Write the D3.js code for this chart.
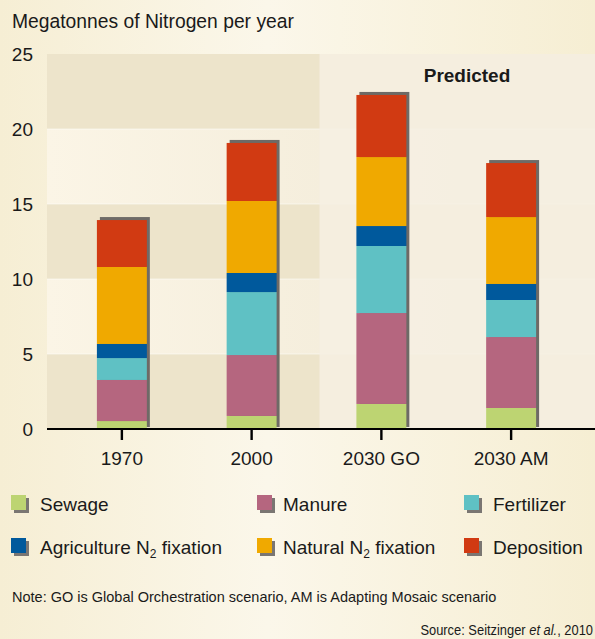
<!DOCTYPE html>
<html>
<head>
<meta charset="utf-8">
<script src="https://cdn.jsdelivr.net/npm/d3@7"></script>
<style>
  html, body { margin: 0; padding: 0; background: #f6efd8; }
  svg { display: block; }
  text { font-family: "Liberation Sans", Arial, Helvetica, sans-serif; fill: #1a1a1a; }
</style>
</head>
<body>
<svg id="chart" width="595" height="639"></svg>
<script>
// Nitrogen inputs by source, Mt N per year
const categories = ["1970", "2000", "2030 GO", "2030 AM"];
const sources = ["Sewage", "Manure", "Fertilizer", "Agriculture N2 fixation", "Natural N2 fixation", "Deposition"];
const sewage      = [0.53, 0.87, 1.67, 1.40];
const manure      = [2.74, 4.06, 6.06, 4.73];
const fertilizer  = [1.46, 4.20, 4.47, 2.47];
const agFixation  = [0.94, 1.27, 1.33, 1.07];
const natFixation = [5.13, 4.80, 4.60, 4.46];
const deposition  = [3.13, 3.87, 4.14, 3.60];
const yTicks = [0, 5, 10, 15, 20, 25];
const colors = ["#bdd472", "#b5667f", "#5fc1c4", "#00599c", "#f0a900", "#d13a12"];

const seriesValues = [sewage, manure, fertilizer, agFixation, natFixation, deposition];
const rows = categories.map((c, i) => {
  const r = { category: c };
  sources.forEach((s, k) => { r[s] = seriesValues[k][i]; });
  return r;
});

const svg = d3.select("#chart");
const W = 595, H = 639;
const plotLeft = 47, plotRight = 595, plotTop = 54, plotBottom = 429;

const defs = svg.append("defs");
const bgGrad = defs.append("linearGradient").attr("id", "bg").attr("x1", 0).attr("x2", 1).attr("y1", 0).attr("y2", 0);
bgGrad.append("stop").attr("offset", "0%").attr("stop-color", "#f6eed4");
bgGrad.append("stop").attr("offset", "45%").attr("stop-color", "#fbf7ea");
bgGrad.append("stop").attr("offset", "100%").attr("stop-color", "#f6eed3");
const lightGrad = defs.append("linearGradient").attr("id", "lightBand").attr("x1", 0).attr("x2", 1).attr("y1", 0).attr("y2", 0);
lightGrad.append("stop").attr("offset", "0%").attr("stop-color", "#fbf5e6");
lightGrad.append("stop").attr("offset", "100%").attr("stop-color", "#efe7d3");

svg.append("rect").attr("width", W).attr("height", H).attr("fill", "url(#bg)");

const y = d3.scaleLinear().domain([0, 25]).range([plotBottom, plotTop]);
const x = d3.scaleBand().domain(categories).range([57, 576]).paddingInner(0.615).paddingOuter(0.3075);

// alternating horizontal bands
const bands = d3.pairs(yTicks);
svg.append("g").selectAll("rect").data(bands).join("rect")
  .attr("x", plotLeft).attr("width", plotRight - plotLeft)
  .attr("y", d => y(d[1])).attr("height", d => y(d[0]) - y(d[1]))
  .attr("fill", (d, i) => i % 2 === 0 ? "#ede4cb" : "url(#lightBand)");

// band separators
svg.append("g").selectAll("line").data(yTicks.slice(1, -1)).join("line")
  .attr("x1", plotLeft).attr("x2", plotRight)
  .attr("y1", d => y(d)).attr("y2", d => y(d))
  .attr("stroke", "#ffffff").attr("stroke-opacity", 0.5).attr("stroke-width", 1);

// projected-scenario region
const predX = (x("2000") + x.bandwidth() + x("2030 GO")) / 2 + 3;
svg.append("rect").attr("x", predX).attr("y", y(25)).attr("width", plotRight - predX).attr("height", y(0) - y(25))
  .attr("fill", "#f6f0e3").attr("fill-opacity", 0.85);
svg.append("text").attr("x", 467).attr("y", 82).attr("text-anchor", "middle")
  .attr("font-size", 19).attr("font-weight", "bold").text("Predicted");

// stacked bars
const stack = d3.stack().keys(sources)(rows);
const totals = rows.map(r => d3.sum(sources, s => r[s]));
svg.append("g").selectAll("rect").data(categories).join("rect")
  .attr("x", d => x(d) + 3).attr("width", x.bandwidth())
  .attr("y", (d, i) => y(totals[i]) - 3).attr("height", (d, i) => y(0) - 2 - (y(totals[i]) - 3))
  .attr("fill", "#6e6a66");
svg.append("g").selectAll("g").data(stack).join("g")
  .attr("fill", (d, i) => colors[i])
  .selectAll("rect").data(d => d).join("rect")
  .attr("x", d => x(d.data.category)).attr("width", x.bandwidth())
  .attr("y", d => y(d[1])).attr("height", d => y(d[0]) - y(d[1]));

// axes
const yAxis = svg.append("g").attr("transform", `translate(33,0)`)
  .call(d3.axisLeft(y).tickValues(yTicks).tickSize(0).tickPadding(0));
yAxis.select(".domain").remove();
yAxis.selectAll("text").attr("font-size", 19).attr("fill", "#1a1a1a")
  .attr("font-family", "Liberation Sans, Arial, sans-serif").attr("dy", "0.36em");

svg.append("line").attr("x1", plotLeft).attr("x2", plotRight).attr("y1", y(0)).attr("y2", y(0))
  .attr("stroke", "#000").attr("stroke-width", 2.2);
const xAxis = svg.append("g").attr("transform", `translate(0,${y(0)})`)
  .call(d3.axisBottom(x).tickSize(11).tickPadding(12));
xAxis.select(".domain").remove();
xAxis.selectAll(".tick line").attr("stroke", "#000").attr("stroke-width", 2.4);
xAxis.selectAll("text").attr("font-size", 19).attr("fill", "#1a1a1a")
  .attr("font-family", "Liberation Sans, Arial, sans-serif");

// title
svg.append("text").attr("x", 12).attr("y", 28).attr("font-size", 19.3).text("Megatonnes of Nitrogen per year");

// legend
const legendPos = [
  [11, 495], [257, 495], [464, 495],
  [11, 538], [257, 538], [464, 538]
];
const textOffset = [29, 26, 29];
const legend = svg.append("g").selectAll("g").data(sources).join("g")
  .attr("transform", (d, i) => `translate(${legendPos[i][0]},${legendPos[i][1]})`);
legend.append("rect").attr("x", 3).attr("y", 3).attr("width", 15).attr("height", 15).attr("fill", "#7a7672");
legend.append("rect").attr("width", 15).attr("height", 15).attr("fill", (d, i) => colors[i]);
legend.append("text").attr("x", (d, i) => textOffset[i % 3]).attr("y", 16).attr("font-size", 19)
  .each(function(d) {
    const t = d3.select(this);
    const m = d.match(/^(.*N)2(.*)$/);
    if (m) {
      t.append("tspan").text(m[1]);
      t.append("tspan").attr("font-size", 12).attr("dy", 4).text("2");
      t.append("tspan").attr("dy", -4).text(m[2]);
    } else {
      t.text(d);
    }
  });

// footnotes
svg.append("text").attr("x", 12).attr("y", 602).attr("font-size", 14.5)
  .text("Note: GO is Global Orchestration scenario, AM is Adapting Mosaic scenario");
const src = svg.append("text").attr("transform", "translate(593,635) scale(0.86,1)")
  .attr("text-anchor", "end").attr("font-size", 15);
src.append("tspan").text("Source: Seitzinger ");
src.append("tspan").attr("font-style", "italic").text("et al.");
src.append("tspan").text(", 2010");
</script>
</body>
</html>
